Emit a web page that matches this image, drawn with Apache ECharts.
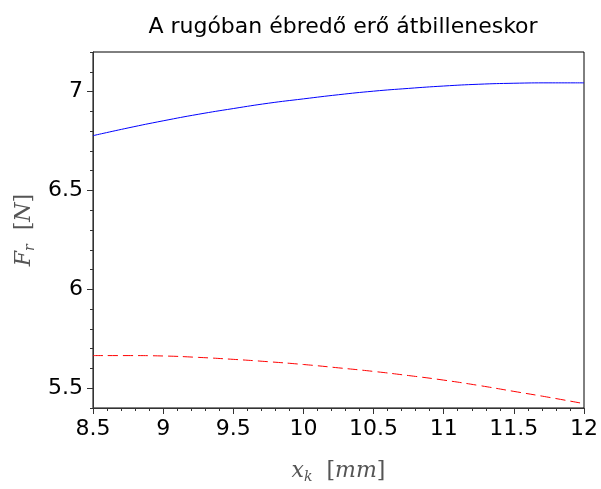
<!DOCTYPE html>
<html style="height: 100%">
<head>
    <meta charset="utf-8">
</head>
<body style="height: 100%; margin: 0; background: #fff">
<div id="container" style="width: 601px; height: 489px"></div>
<script type="text/javascript" src="https://cdn.jsdelivr.net/npm/echarts@6/dist/echarts.min.js"></script>
<script type="text/javascript">
    // x_k [mm]
    var xValues = [8.5, 8.75, 9.0, 9.25, 9.5, 9.75, 10.0, 10.25, 10.5, 10.75, 11.0, 11.25, 11.5, 11.75, 12.0];
    // kek, folytonos
    var blueValues = [6.777, 6.816, 6.852, 6.885, 6.914, 6.941, 6.963, 6.984, 7.002, 7.016, 7.028, 7.037, 7.042, 7.044, 7.044];
    // piros, szaggatott
    var redValues = [5.665, 5.665, 5.663, 5.656, 5.646, 5.634, 5.620, 5.603, 5.585, 5.564, 5.541, 5.514, 5.484, 5.454, 5.422];
    // y tengely feliratai es kis osztasok
    var yMajorTicks = [5.5, 6, 6.5, 7];
    var yMinorTicks = [5.4, 5.6, 5.7, 5.8, 5.9, 6.1, 6.2, 6.3, 6.4, 6.6, 6.7, 6.8, 6.9, 7.1, 7.2];

    function pairs(xs, ys) {
        var out = [];
        for (var i = 0; i < xs.length; i++) {
            out.push([xs[i], ys[i]]);
        }
        return out;
    }

    var myChart = echarts.init(document.getElementById("container"));
    var labelFont = 'DejaVu Sans, sans-serif';
    var mathRich = {
        i: {fontFamily: 'DejaVu Serif', fontStyle: 'italic', fontSize: 22, color: '#555'},
        s: {fontFamily: 'DejaVu Serif', fontStyle: 'italic', fontSize: 14, color: '#555', padding: [12, 0, 0, 0]},
        b: {fontFamily: 'DejaVu Serif', fontSize: 22, color: '#555'}
    };

    var option = {
        animation: false,
        title: {
            text: 'A rugóban ébredő erő átbilleneskor',
            left: 338,
            top: 11,
            textAlign: 'center',
            textStyle: {fontFamily: labelFont, fontWeight: 'normal', fontSize: 22, color: '#000'}
        },
        grid: {
            left: 93, right: 15, top: 52, bottom: 77,
            show: true, borderColor: '#000', borderWidth: 1
        },
        xAxis: {
            type: 'value',
            min: 8.5, max: 12, interval: 0.5,
            splitLine: {show: false},
            axisLine: {lineStyle: {color: '#333'}},
            axisTick: {length: 6, lineStyle: {color: '#333'}},
            minorTick: {show: true, splitNumber: 5, length: 3, lineStyle: {color: '#333'}},
            axisLabel: {fontFamily: labelFont, fontSize: 22, color: '#000', margin: 10},
            name: '{i|x}{s|k}{b|  [}{i|mm}{b|]}',
            nameLocation: 'middle',
            nameGap: 50,
            nameTextStyle: {rich: mathRich}
        },
        yAxis: [{
            type: 'value',
            min: 5.4, max: 7.2,
            splitLine: {show: false},
            axisLine: {show: true, lineStyle: {color: '#333'}},
            axisTick: {length: 6, customValues: yMajorTicks, lineStyle: {color: '#333'}},
            axisLabel: {customValues: yMajorTicks, fontFamily: labelFont, fontSize: 22, color: '#000', margin: 10},
            name: '{i|F}{s|r}{b|  [}{i|N}{b|]}',
            nameLocation: 'middle',
            nameRotate: 90,
            nameGap: 54,
            nameTextStyle: {rich: mathRich}
        }, {
            type: 'value',
            position: 'left',
            min: 5.4, max: 7.2,
            splitLine: {show: false},
            axisLine: {show: false},
            axisTick: {length: 3, customValues: yMinorTicks, lineStyle: {color: '#333'}},
            axisLabel: {show: false}
        }],
        series: [{
            type: 'line',
            data: pairs(xValues, blueValues),
            showSymbol: false,
            smooth: true,
            lineStyle: {color: '#0000ff', width: 1}
        }, {
            type: 'line',
            data: pairs(xValues, redValues),
            showSymbol: false,
            smooth: true,
            lineStyle: {color: '#ff0000', width: 1, type: [10, 5]}
        }]
    };
    myChart.setOption(option);
</script>
</body>
</html>
